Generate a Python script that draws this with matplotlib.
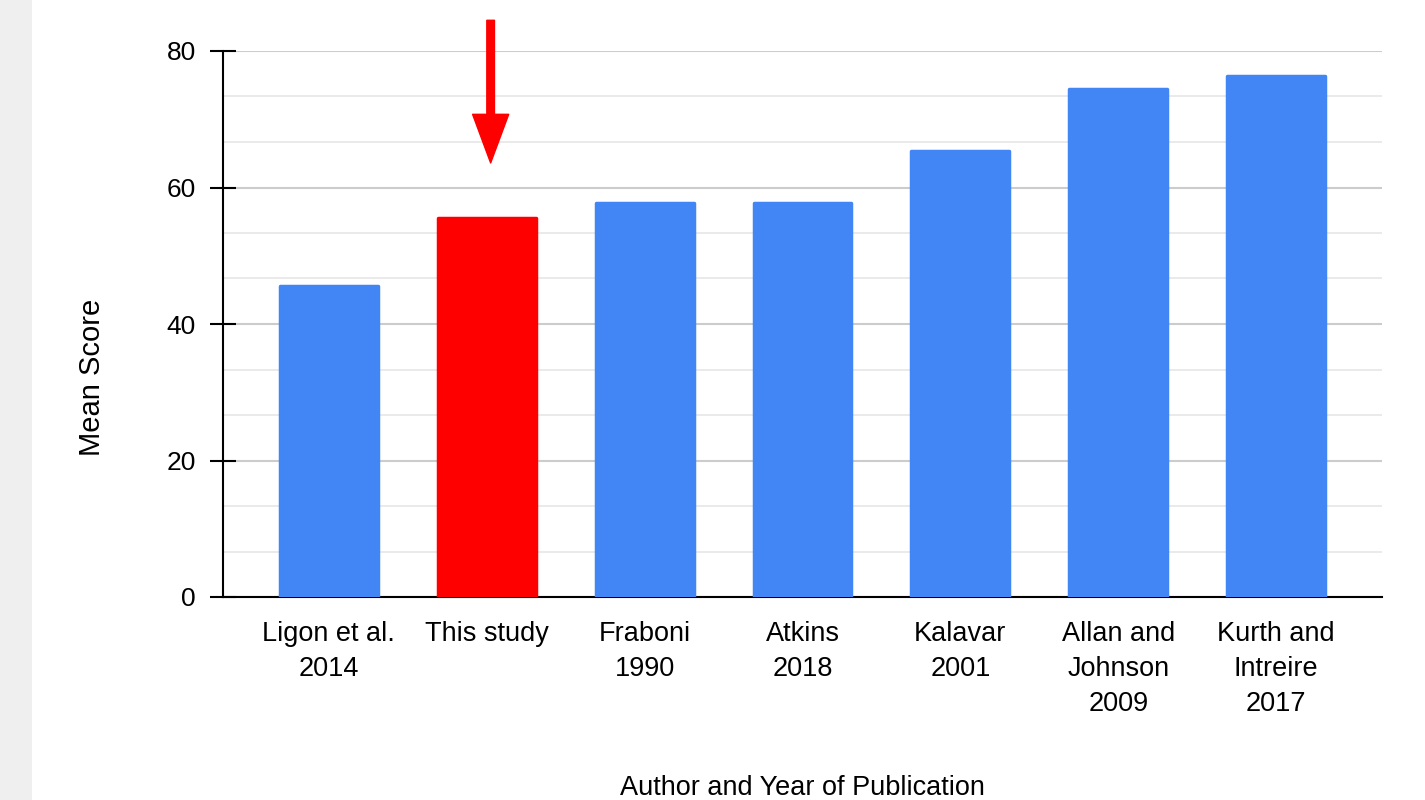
import matplotlib.pyplot as plt
import matplotlib.patches as mpatches
import numpy as np

# data
authors = ['Ligon et al.\n2014', 'This study', 'Fraboni\n1990', 'Atkins\n2018',
           'Kalavar\n2001', 'Allan and\nJohnson\n2009', 'Kurth and\nIntreire\n2017']
mean_scores = [45.6, 55.5, 57.7, 57.7, 65.3, 74.4, 76.3]
highlight = 'This study'

blue = '#4285f4'
red = '#ff0000'

plt.rcParams['font.family'] = ['Liberation Sans', 'DejaVu Sans']

fig = plt.figure(figsize=(14.25, 8), dpi=100)
fig.patches.append(mpatches.Rectangle((0, 0), 32 / 1425, 1, transform=fig.transFigure,
                                      facecolor='#efefef', edgecolor='none', zorder=0))
ax = fig.add_axes([223 / 1425, 1 - 597 / 800, 1159 / 1425, 546 / 800])

x = np.arange(len(authors))
colors = [red if a == highlight else blue for a in authors]
ax.bar(x, mean_scores, width=0.62, color=colors, edgecolor=colors, linewidth=2.5,
       joinstyle='round', zorder=3)

ax.set_xlim(-0.67, len(authors) - 0.33)
ax.set_ylim(0, 80)
ax.set_yticks(np.arange(0, 81, 20))
ax.set_yticks(np.arange(0, 80.1, 20 / 3), minor=True)
ax.grid(axis='y', which='major', color='#cccccc', linewidth=1.5, zorder=0)
ax.grid(axis='y', which='minor', color='#e6e6e6', linewidth=1.2, zorder=0)
ax.set_axisbelow(True)

ax.set_xticks(x)
ax.set_xticklabels(authors, fontsize=19.5, linespacing=1.45)
ax.tick_params(axis='x', length=0, pad=17)
ax.tick_params(axis='y', which='major', direction='inout', length=19, width=1.5,
               labelsize=19, pad=10)
ax.tick_params(axis='y', which='minor', length=0)

for side in ['top', 'right']:
    ax.spines[side].set_visible(False)
ax.spines['left'].set_linewidth(1.5)
ax.spines['bottom'].set_linewidth(1.5)

ax.set_ylabel('Mean Score', fontsize=21)
ax.yaxis.set_label_coords(-0.101, 0.403)
ax.set_xlabel('Author and Year of Publication', fontsize=19.5)
ax.xaxis.set_label_coords(0.5, -0.326)

# red arrow pointing at this study
i = authors.index(highlight)
ax.annotate('', xy=(i + 0.025, 63.6), xytext=(i + 0.025, 84.5),
            arrowprops=dict(facecolor=red, edgecolor=red, width=5.5, headwidth=26,
                            headlength=35, shrink=0),
            annotation_clip=False)

fig.savefig('out.png', dpi=100)
